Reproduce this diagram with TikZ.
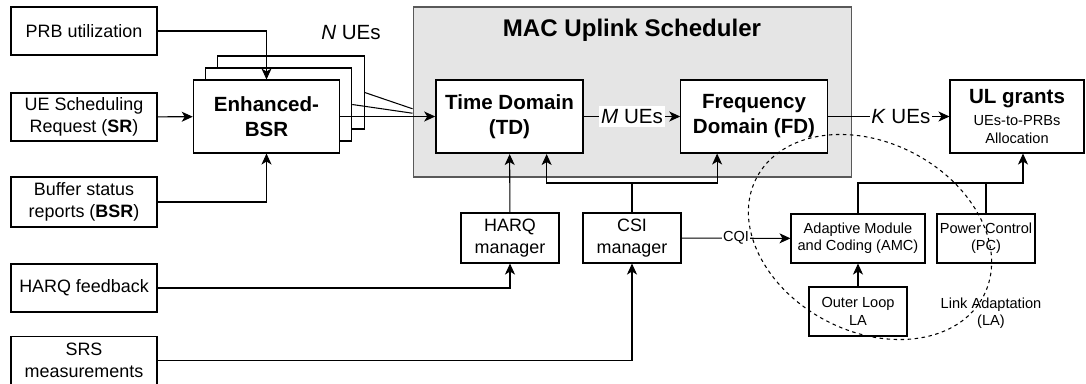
\documentclass[tikz,border=0pt]{standalone}
\usepackage{fontspec}
\setmainfont{Liberation Sans}
\usetikzlibrary{arrows.meta, positioning, calc}

\newcommand{\fbody}{\fontsize{10.2}{12.5}\selectfont}
\newcommand{\fbig}{\fontsize{11.7}{14.2}\selectfont}
\newcommand{\fsmall}{\fontsize{8.3}{9.8}\selectfont}
\newcommand{\ftitle}{\fontsize{13.7}{16}\selectfont}

\tikzset{
    inbox/.style={rectangle, draw, fill=white, minimum width=2.92cm, minimum height=0.96cm, align=center, font=\fbody, inner sep=1pt},
    mgr/.style={rectangle, draw, fill=white, minimum width=1.96cm, minimum height=1.0cm, align=center, font=\fbody, inner sep=1pt},
    stage/.style={rectangle, draw, fill=white, minimum width=2.93cm, minimum height=1.46cm, align=center, font=\fbig\bfseries},
    labox/.style={rectangle, draw, fill=white, minimum height=0.98cm, align=center, font=\fsmall, inner sep=1pt},
    arrow/.style={-{Stealth[length=2.2mm, width=2mm, inset=0.6mm]}},
    onwire/.style={fill=white, inner xsep=1pt, inner ysep=2pt},
}

\begin{document}
\begin{tikzpicture}[x=0.02cm, y=-0.02cm, line width=0.6pt]
    \clip (0,0) rectangle (1086,383);
    % scheduler frame
    \node[draw=black!65, fill=black!10, minimum width=8.78cm, minimum height=3.4cm] (mac) at (632.5,92) {};
    \node[font=\ftitle\bfseries] (mactitle) at (632,30) {MAC Uplink Scheduler};
    % inputs
    \node[inbox] (prb) at (84,31) {PRB utilization};
    \node[inbox] (sr) at (84,117) {UE Scheduling\\Request (\textbf{SR})};
    \node[inbox, minimum height=1.0cm] (bsr) at (84,202) {Buffer status\\reports (\textbf{BSR})};
    \node[inbox] (harqfb) at (84,288) {HARQ feedback};
    \node[inbox] (srs) at (84,360.5) {SRS\\measurements};
    % enhanced-BSR, one per UE
    \node[stage] (ebsr3) at (291,92.5) {};
    \node[stage] (ebsr2) at (278.5,104.5) {};
    \node[stage] (ebsr) at (266.5,116.5) {Enhanced-\\BSR};
    \node[font=\fbig] (nues) at (351,33) {\textit{N} UEs};
    % scheduler stages
    \node[stage, line width=1.2pt] (td) at (509.5,116.5) {Time Domain\\(TD)};
    \node[stage] (fd) at (754,116.5) {Frequency\\Domain (FD)};
    \node[stage, minimum width=2.68cm] (ul) at (1017,116.5) {UL grants\\[-1.7pt]{\fsmall\mdseries UEs-to-PRBs}\\[-3.5pt]{\fsmall\mdseries Allocation}};
    % managers
    \node[mgr] (harq) at (510,238) {HARQ\\manager};
    \node[mgr] (csi) at (632,238) {CSI\\manager};
    % link adaptation
    \node[labox, minimum width=2.68cm] (amc) at (858,238.5) {Adaptive Module\\and Coding (AMC)};
    \node[labox, minimum width=1.96cm] (pc) at (986,238.5) {Power Control\\(PC)};
    \node[labox, minimum width=1.96cm] (olla) at (858,311.5) {Outer Loop\\LA};
    \node[font=\fsmall, align=center] (latext) at (991,313) {Link Adaptation\\(LA)};

    \draw[arrow] (prb.east) -| (ebsr.north);
    \draw[arrow] (sr) -- (ebsr);
    \draw[arrow] (bsr.east) -| (ebsr.south);
    \draw[arrow] (ebsr.east) -- (td.west);
    \draw (ebsr2.east) -- (intersection of ebsr2.east--td.west and mac.north west--mac.south west);
    \draw (ebsr3.east) -- (intersection of ebsr3.east--td.west and mac.north west--mac.south west);
    \draw[arrow] (td) -- node[onwire, font=\fbig] (mues) {\textit{M} UEs} (fd);
    \draw[arrow] (fd) -- node[onwire, pos=0.6, font=\fbig] (kues) {\textit{K} UEs} (ul);

    \draw[arrow] (harqfb.east) -| (harq.south);
    \draw[arrow] (srs.east) -| (csi.south);
    \draw[arrow] (harq) -- (td);
    \coordinate (csisplit) at (632,183);
    \coordinate (tdin) at ($(td.south west)!0.75!(td.south east)$);
    \coordinate (fdin) at ($(fd.south west)!0.25!(fd.south east)$);
    \draw (csi.north) -- (csisplit);
    \draw[arrow] (csisplit) -| (tdin);
    \draw[arrow] (csisplit) -| (fdin);
    \draw[arrow] (csi) -- node[onwire, font=\fsmall, inner sep=0.5pt] (cqi) {CQI} (amc);

    \draw[arrow] (olla) -- (amc);
    \coordinate (lasplit) at (986,183);
    \coordinate (ulin) at ($(ul.south)+(6,0)$);
    \draw (amc.north) |- (lasplit);
    \draw (pc.north) -- (lasplit);
    \draw[arrow] (lasplit) -| (ulin);
    % link adaptation region
    \draw[dash pattern=on 2pt off 2pt] (870,237) ellipse [x radius=2.56cm, y radius=1.89cm, rotate=-27.5];
\end{tikzpicture}
\end{document}
